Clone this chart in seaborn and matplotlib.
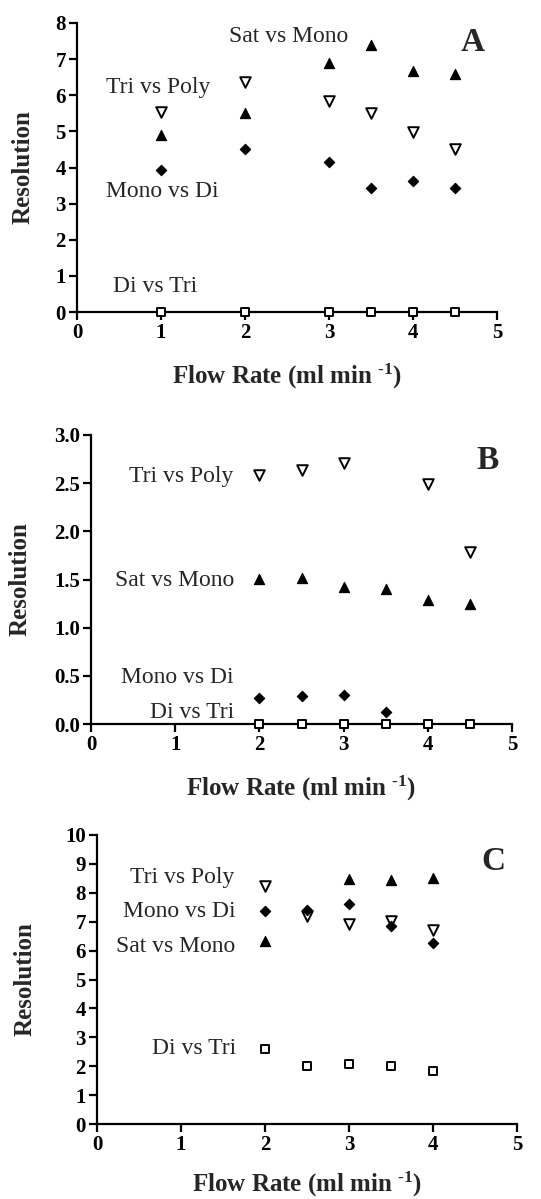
import matplotlib
matplotlib.use("Agg")
import matplotlib.pyplot as plt
import seaborn as sns
import numpy as np

# ---------------- data ----------------
# Panel A
flow_A = [1, 2, 3, 3.5, 4, 4.5]
sat_mono_A = [4.9, 5.5, 6.9, 7.4, 6.68, 6.58]
tri_poly_A = [5.55, 6.38, 5.84, 5.52, 4.98, 4.51]
mono_di_A = [3.92, 4.5, 4.16, 3.43, 3.62, 3.43]
di_tri_A = [0, 0, 0, 0, 0, 0]

# Panel B
flow_B = [2, 2.5, 3, 3.5, 4, 4.5]
sat_mono_B = [1.51, 1.52, 1.42, 1.40, 1.29, 1.25]
tri_poly_B_x = [2, 2.5, 3, 4, 4.5]
tri_poly_B = [2.58, 2.64, 2.71, 2.49, 1.79]
mono_di_B_x = [2, 2.5, 3, 3.5]
mono_di_B = [0.27, 0.29, 0.30, 0.12]
di_tri_B = [0, 0, 0, 0, 0, 0]

# Panel C
flow_C = [2, 2.5, 3, 3.5, 4]
sat_mono_C_x = [2, 3, 3.5, 4]
sat_mono_C = [6.33, 8.49, 8.45, 8.52]
tri_poly_C = [8.24, 7.19, 6.92, 7.01, 6.71]
mono_di_C = [7.37, 7.42, 7.62, 6.86, 6.26]
di_tri_C = [2.58, 2.02, 2.08, 2.02, 1.82]

xlabel = "Flow Rate (ml min $^{\\text{-1}}$)"
ylabel = "Resolution"
panel_letters = ["A", "B", "C"]

# ---------------- style ----------------
sns.set_style("ticks")
plt.rcParams["font.family"] = ["Liberation Serif", "DejaVu Serif"]
plt.rcParams["mathtext.fontset"] = "custom"
plt.rcParams["mathtext.rm"] = "Liberation Serif:bold"
plt.rcParams["mathtext.it"] = "Liberation Serif:bold"
plt.rcParams["mathtext.bf"] = "Liberation Serif:bold"

W, H = 541, 1199
fig = plt.figure(figsize=(W / 100, H / 100), dpi=100)

def px_axes(left, right, top, bottom):
    return fig.add_axes([left / W, (H - bottom) / H, (right - left) / W, (bottom - top) / H])

axA = px_axes(77, 497, 23, 312)
axB = px_axes(91, 512, 435, 724)
axC = px_axes(97, 517, 835, 1124)

styles = {
    "sat": dict(marker="^", color="black", edgecolor="black", s=54, linewidth=0.8),
    "tri": dict(marker="v", color="white", edgecolor="black", s=58, linewidth=1.4),
    "mono": dict(marker="D", color="black", edgecolor="black", s=28, linewidth=0.8),
    "di": dict(marker="s", color="white", edgecolor="black", s=36, linewidth=1.4),
}

def scat(ax, x, y, key):
    sns.scatterplot(x=x, y=y, ax=ax, clip_on=False, zorder=5, legend=False, **styles[key])

# Panel A
scat(axA, flow_A, sat_mono_A, "sat")
scat(axA, flow_A, tri_poly_A, "tri")
scat(axA, flow_A, mono_di_A, "mono")
scat(axA, flow_A, di_tri_A, "di")
# Panel B
scat(axB, flow_B, sat_mono_B, "sat")
scat(axB, tri_poly_B_x, tri_poly_B, "tri")
scat(axB, mono_di_B_x, mono_di_B, "mono")
scat(axB, flow_B, di_tri_B, "di")
# Panel C
scat(axC, sat_mono_C_x, sat_mono_C, "sat")
scat(axC, flow_C, tri_poly_C, "tri")
scat(axC, flow_C, mono_di_C, "mono")
scat(axC, flow_C, di_tri_C, "di")

ylims = [(0, 8), (0, 3), (0, 10)]
yticks = [np.arange(0, 9, 1), np.arange(0, 3.01, 0.5), np.arange(0, 11, 1)]
yfmt = ["{:.0f}", "{:.1f}", "{:.0f}"]
ylab_x = [-0.129, -0.169, -0.171]
xlab_y = [-0.224, -0.222, -0.208]

for ax, yl, yt, fm, lx, ly in zip([axA, axB, axC], ylims, yticks, yfmt, ylab_x, xlab_y):
    ax.set_xlim(0, 5)
    ax.set_ylim(*yl)
    ax.set_xticks(range(0, 6))
    ax.set_xticklabels([str(i) for i in range(0, 6)], fontsize=15, fontweight="bold")
    ax.set_yticks(yt)
    ax.set_yticklabels([fm.format(v) for v in yt], fontsize=15, fontweight="bold")
    for sp in ["top", "right"]:
        ax.spines[sp].set_visible(False)
    for sp in ["left", "bottom"]:
        ax.spines[sp].set_linewidth(1.6)
        ax.spines[sp].set_color("black")
    ax.tick_params(direction="out", length=6, width=1.6, colors="black", pad=2)
    ax.set_xlabel(xlabel, fontsize=18, fontweight="bold")
    ax.set_ylabel(ylabel, fontsize=18, fontweight="bold")
    ax.xaxis.set_label_coords(0.5, ly)
    ax.xaxis.label.set_verticalalignment("center")
    ax.yaxis.set_label_coords(lx, 0.5)
    ax.yaxis.label.set_verticalalignment("center")
    ax.set_facecolor("white")

ann = dict(fontsize=17, va="center")
# Panel A labels
axA.text(1.81, 7.62, "Sat vs Mono", ha="left", **ann)
axA.text(0.345, 6.22, "Tri vs Poly", ha="left", **ann)
axA.text(0.35, 3.33, "Mono vs Di", ha="left", **ann)
axA.text(0.43, 0.70, "Di vs Tri", ha="left", **ann)
axA.text(4.71, 7.46, panel_letters[0], ha="center", va="center", fontsize=24, fontweight="bold")
# Panel B labels
axB.text(1.69, 2.57, "Tri vs Poly", ha="right", **ann)
axB.text(1.70, 1.49, "Sat vs Mono", ha="right", **ann)
axB.text(1.69, 0.485, "Mono vs Di", ha="right", **ann)
axB.text(1.70, 0.12, "Di vs Tri", ha="right", **ann)
axB.text(4.71, 2.74, panel_letters[1], ha="center", va="center", fontsize=24, fontweight="bold")
# Panel C labels
axC.text(1.64, 8.54, "Tri vs Poly", ha="right", **ann)
axC.text(1.655, 7.37, "Mono vs Di", ha="right", **ann)
axC.text(1.65, 6.14, "Sat vs Mono", ha="right", **ann)
axC.text(1.66, 2.62, "Di vs Tri", ha="right", **ann)
axC.text(4.72, 9.1, panel_letters[2], ha="center", va="center", fontsize=24, fontweight="bold")

fig.patch.set_facecolor("white")
fig.savefig("out.png", dpi=100, facecolor="white")
